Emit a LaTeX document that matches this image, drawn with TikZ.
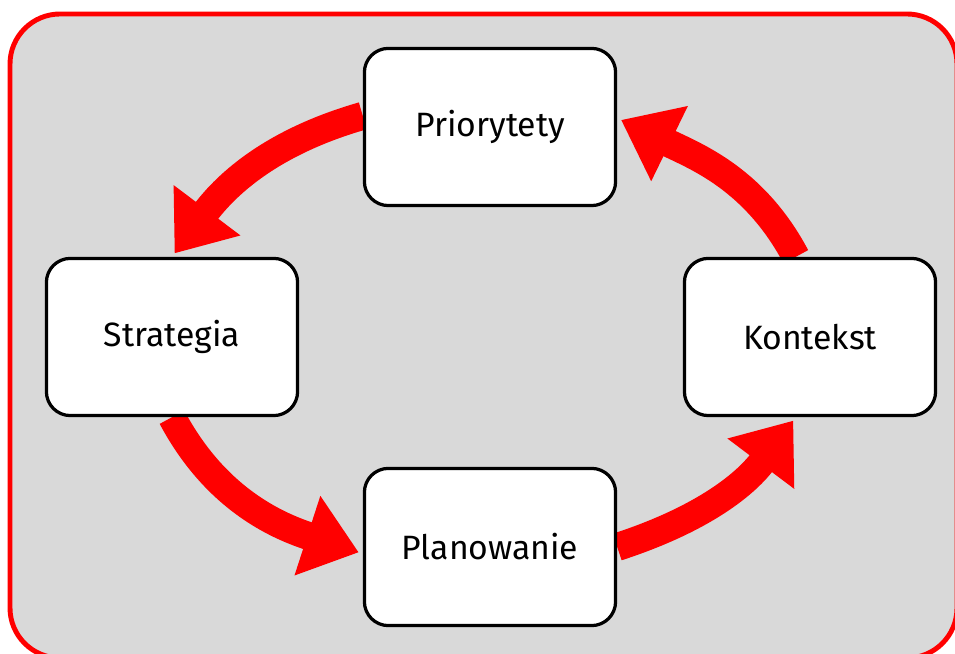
\documentclass[tikz,border=0pt]{standalone}
\usepackage{fontspec}
\setmainfont{Fira Sans}
\usetikzlibrary{arrows.meta, backgrounds}

\definecolor{panelgray}{HTML}{D9D9D9}

\begin{document}
\begin{tikzpicture}[
    stagebox/.style={draw, line width=2.3pt, fill=white, rounded corners=0.6cm,
        minimum width=6.28cm, minimum height=3.93cm,
        font=\fontsize{24}{28}\selectfont},
    cyclearrow/.style={draw=red, line width=0.7cm,
        -{Triangle[length=1.35cm, width=2cm]}, shorten >=3pt}
]
    % Frame of the page
    \useasboundingbox (0,0) rectangle (23.875,16.35);

    % Stages of the cycle
    \node[stagebox] (prio)  at (12.25,13.175) {Priorytety};
    \node[stagebox] (strat) at (4.3,7.925)    {Strategia};
    \node[stagebox] (kont)  at (20.25,7.925)  {Kontekst};
    \node[stagebox] (plan)  at (12.25,2.675)  {Planowanie};

    \begin{pgfonlayer}{background}
        % Gray panel with red border
        \draw[red, line width=3.5pt, fill=panelgray, rounded corners=1.25cm]
            (0.25,-0.1) rectangle (23.925,16.0);
        % Arrows round the cycle
        \draw[cyclearrow] (prio.175) to[out=196, in=53] (strat.north);
        \draw[cyclearrow] (strat.south) to[out=-62, in=162] (plan.183);
        \draw[cyclearrow] (plan.east) to[out=18, in=233] (kont.260);
        \draw[cyclearrow] (kont.100) to[out=118, in=334] (prio.4);
    \end{pgfonlayer}
\end{tikzpicture}
\end{document}
